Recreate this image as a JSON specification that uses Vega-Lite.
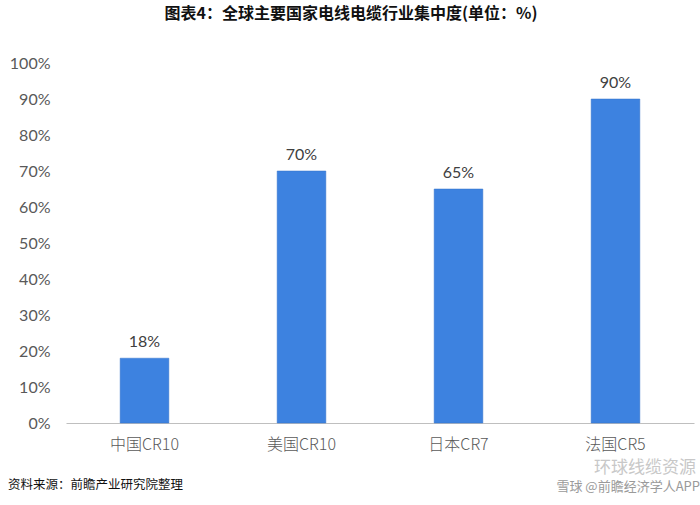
{
  "$schema": "https://vega.github.io/schema/vega-lite/v6.json",
  "autosize": {"type": "none"},
  "width": 628,
  "height": 360,
  "padding": {"left": 66, "top": 63, "right": 6, "bottom": 82},
  "background": "white",
  "title": {
    "text": "图表4：全球主要国家电线电缆行业集中度(单位：%)",
    "font": "Noto Sans CJK SC",
    "fontSize": 16,
    "fontWeight": "bold",
    "color": "#111111",
    "anchor": "middle",
    "frame": "group",
    "dx": -29,
    "offset": 33
  },
  "config": {
    "view": {"stroke": null},
    "font": "Noto Sans CJK SC"
  },
  "data": {
    "values": [
      {"country": "中国CR10", "value": 18, "label": "18%"},
      {"country": "美国CR10", "value": 70, "label": "70%"},
      {"country": "日本CR7", "value": 65, "label": "65%"},
      {"country": "法国CR5", "value": 90, "label": "90%"}
    ]
  },
  "encoding": {
    "x": {
      "field": "country",
      "type": "nominal",
      "sort": null,
      "scale": {"paddingInner": 0.69, "paddingOuter": 0.345},
      "axis": {
        "title": null,
        "labelAngle": 0,
        "ticks": false,
        "domainColor": "#bfbfbf",
        "domainWidth": 1,
        "labelFont": "Noto Sans CJK SC",
        "labelFontWeight": 300,
        "labelFontSize": 16,
        "labelColor": "#595959",
        "labelPadding": 13
      }
    },
    "y": {
      "field": "value",
      "type": "quantitative",
      "scale": {"domain": [0, 100]},
      "axis": {
        "title": null,
        "values": [0, 10, 20, 30, 40, 50, 60, 70, 80, 90, 100],
        "labelExpr": "datum.value + '%'",
        "labelOverlap": false,
        "grid": false,
        "ticks": false,
        "domain": false,
        "labelFont": "Lato",
        "labelFontSize": 16,
        "labelColor": "#595959",
        "labelPadding": 16
      }
    }
  },
  "layer": [
    {
      "mark": {"type": "bar", "color": "#3d82e0", "stroke": "#3573c8", "strokeWidth": 0.5}
    },
    {
      "mark": {"type": "text", "baseline": "bottom", "dy": -8, "fontSize": 16, "font": "Lato", "color": "#404040"},
      "encoding": {
        "text": {"field": "label", "type": "nominal"}
      }
    },
    {
      "data": {"values": [{"label": "资料来源：前瞻产业研究院整理"}]},
      "mark": {"type": "text", "align": "left", "baseline": "middle", "fontSize": 12.5, "color": "#111111", "x": -58, "y": 422},
      "encoding": {"x": null, "y": null, "text": {"field": "label"}}
    },
    {
      "data": {"values": [{"label": "环球线缆资源"}]},
      "mark": {"type": "text", "align": "right", "baseline": "middle", "fontSize": 17, "color": "#c8c8c8", "x": 630, "y": 405},
      "encoding": {"x": null, "y": null, "text": {"field": "label"}}
    },
    {
      "data": {"values": [{"label": "雪球 @前瞻经济学人APP"}]},
      "mark": {"type": "text", "align": "right", "baseline": "middle", "fontSize": 13, "color": "#9a9a9a", "x": 634, "y": 424},
      "encoding": {"x": null, "y": null, "text": {"field": "label"}}
    }
  ]
}
